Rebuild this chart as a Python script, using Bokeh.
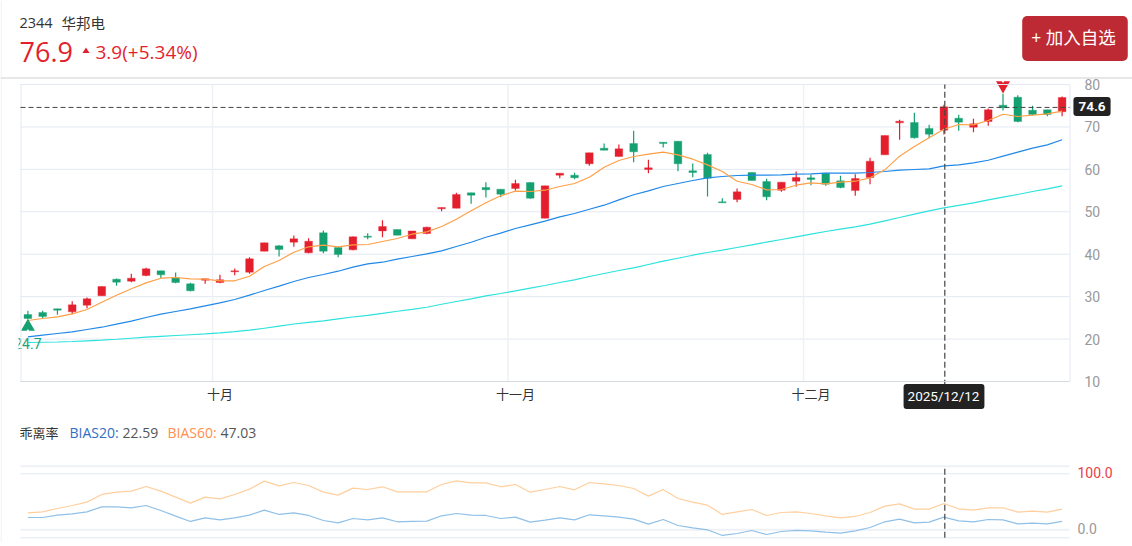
from bokeh.embed import file_html
from bokeh.resources import INLINE
from bokeh.layouts import column
from bokeh.models import (ColumnDataSource, FixedTicker, Label, PolyAnnotation, BoxAnnotation, Range1d)
from bokeh.plotting import figure

opens = [25.79,26.26,27.13,26.42,27.99,30.19,34.12,33.65,34.98,36.08,34.43,33.02,33.88,33.33,35.85,35.77,40.72,41.97,42.84,40.32,45.04,41.58,41.03,44.25,45.5,
         45.82,43.62,44.88,50.69,50.85,54.46,55.72,55.33,55.48,56.9,48.49,58.63,58.63,61.3,65.0,63.03,66.09,59.96,66.41,66.64,59.65,63.5,52.34,52.89,59.26,
         57.14,55.09,57.21,58.0,59.1,57.29,55.0,58.08,63.42,70.96,71.04,69.63,69.24,72.06,69.94,71.28,75.13,77.01,73.95,74.03,73.56]
closes = [24.85,25.32,26.81,28.07,29.48,32.39,33.41,34.35,36.55,35.14,33.33,31.37,34.2,33.96,36.08,38.91,42.68,41.11,43.62,43.07,40.72,39.93,44.1,44.02,46.53,
          44.48,45.5,46.37,51.0,54.07,53.91,55.17,54.15,56.66,53.21,56.11,59.1,58.0,63.89,64.52,64.83,64.13,60.36,66.09,61.3,59.26,57.92,52.11,54.7,57.37,
          53.52,56.98,58.08,57.61,56.51,55.72,57.84,61.93,67.98,71.36,67.43,68.29,74.74,71.12,70.73,74.03,74.5,71.28,72.93,72.93,76.94]
highs = [26.65,26.65,27.13,28.93,29.8,32.39,34.27,35.37,36.79,36.08,35.69,33.25,34.2,35.14,36.63,39.3,42.68,42.13,44.41,43.78,45.59,41.74,44.17,44.96,48.02,
         45.82,45.5,46.45,51.0,54.46,54.46,56.98,55.33,57.53,56.9,56.11,59.1,59.18,63.89,66.09,65.86,69.08,62.24,66.41,66.64,61.38,63.89,53.21,55.48,59.26,
         57.77,56.98,59.49,58.79,59.1,58.47,58.86,62.71,67.98,71.67,73.32,70.49,75.21,72.85,71.91,74.34,77.8,77.49,74.97,74.03,77.17]
lows = [24.69,24.92,25.71,25.87,27.28,30.19,32.55,33.41,34.82,34.35,33.17,31.29,33.02,33.17,35.06,35.37,40.72,39.46,41.74,40.25,40.25,39.3,40.95,43.55,44.01,
        44.48,43.62,44.72,50.14,50.85,51.87,53.36,53.44,55.0,53.05,48.49,57.92,57.69,60.83,64.52,63.03,61.69,59.1,65.15,59.57,58.16,53.6,52.11,52.26,57.37,
        52.74,54.7,55.88,56.27,56.11,55.56,53.76,56.51,63.42,66.96,67.27,67.35,68.21,69.08,68.76,70.26,73.87,71.12,72.77,72.54,72.54]

ma_fast = [24.37,24.85,25.24,25.95,26.97,28.7,30.35,31.84,33.25,34.35,34.51,34.2,34.12,33.73,33.73,34.82,37.1,38.52,40.48,41.74,42.13,41.74,42.21,42.29,43.0,
           43.7,44.72,45.27,46.53,48.26,50.22,52.11,53.76,54.86,54.78,55.09,55.96,56.66,58.16,60.51,62.08,63.03,63.58,64.05,63.42,62.4,61.06,59.49,57.2,56.43,
           55.17,55.25,56.27,56.82,56.59,56.98,57.21,58.0,59.89,63.11,65.39,67.43,69.47,70.57,70.49,71.51,73.0,72.46,72.77,73.09,73.71]
ma_mid = [20.52,20.92,21.31,21.7,22.25,22.8,23.51,24.22,25.08,25.87,26.5,27.13,27.83,28.54,29.32,30.35,31.45,32.47,33.57,34.51,35.22,36.0,36.95,37.73,38.12,
          38.83,39.46,40.09,40.79,41.81,42.83,44.01,44.96,46.06,46.92,47.79,48.81,49.59,50.61,51.56,52.81,54.0,54.94,55.96,56.66,57.37,58.0,58.31,58.55,58.63,
          58.63,58.71,58.86,58.94,59.1,59.1,59.1,59.26,59.49,59.81,59.97,60.12,60.83,61.06,61.54,62.16,63.11,64.05,65.0,65.78,66.96]
ma_slow = [19.19,19.25,19.32,19.42,19.58,19.75,19.95,20.2,20.45,20.65,20.85,21.03,21.23,21.45,21.75,22.1,22.55,23.05,23.55,23.95,24.3,24.75,25.2,25.6,26.05,
           26.55,27.0,27.5,28.2,28.85,29.48,30.18,30.74,31.36,32.0,32.62,33.33,33.96,34.74,35.45,36.16,36.78,37.57,38.36,39.06,39.77,40.4,40.95,41.58,42.2,
           42.84,43.46,44.09,44.72,45.35,45.9,46.45,47.08,47.87,48.65,49.44,50.22,50.93,51.5,52.1,52.8,53.44,54.07,54.78,55.4,56.1]

bias20 = [22.0,22.0,26.2,28.6,32.1,41.0,41.0,39.3,43.4,34.5,24.4,14.9,21.4,17.8,21.4,26.2,35.1,27.4,30.3,25.6,16.6,12.5,20.2,17.8,21.4,
          14.3,14.9,15.4,25.0,29.1,26.2,25.6,20.2,22.6,13.7,17.2,21.4,17.8,26.8,25.0,22.6,19.0,10.1,18.4,7.7,3.6,0.0,-10.1,-6.6,-1.2,
          -8.4,-3.0,-1.2,-1.8,-4.2,-6.0,-1.8,4.1,14.3,19.0,12.5,13.7,22.59,16.0,14.3,18.4,17.8,10.7,11.9,10.7,14.9]
bias60 = [30.3,32.1,38.1,43.4,49.4,63.1,67.2,69.0,77.3,69.0,58.3,47.6,58.3,55.3,63.1,72.6,86.9,78.5,84.5,79.1,67.2,61.9,74.4,72.0,76.8,
          67.8,67.8,67.8,80.9,87.5,83.9,83.9,76.8,80.9,67.2,72.0,77.3,71.4,84.5,82.1,79.1,73.8,60.1,72.0,55.9,49.4,44.0,27.4,32.1,36.3,
          25.6,30.9,32.1,29.1,25.0,21.4,23.8,30.9,42.2,46.4,36.9,36.9,47.03,37.5,35.1,39.3,39.3,31.5,33.3,31.5,36.9]

month_ticks = [13, 33, 53]
month_labels = ["十月", "十一月", "十二月"]
price_ticks = [10, 20, 30, 40, 50, 60, 70, 80]
bias_ticks = [100, 0]
bias_edges = [113.6, -14.3]
cross_index = 62
cross_price = 74.6
cross_date = "2025/12/12"
low_index, low_value = 0, 24.7
high_index = 66
low_mark_y, low_notch_y, low_text_y = 22.9, 21.7, 19.0
high_mark_y, high_notch_y = 79.8, 81.0

RED = "#E41F2D"
GREEN = "#14A070"
GRID = "#E3E8F2"
GRID2 = "#EEF1F6"
LATIN = "'Open Sans','Noto Sans CJK SC',sans-serif"
CJK = "'Noto Sans CJK SC',sans-serif"

W, H = 1132, 542
H1 = 450
F_L, F_R = 20.0, 1069.0
F1_T, F1_B = 84.0, 381.0
X0, X1 = -0.5, 70.5

n = len(opens)
idx = list(range(n))
colors = [RED if c >= o else GREEN for o, c in zip(opens, closes)]
src = ColumnDataSource(dict(x=idx, top=[max(o, c) for o, c in zip(opens, closes)],
                            bot=[min(o, c) for o, c in zip(opens, closes)],
                            hi=highs, lo=lows, color=colors))

# every canvas pixel lies inside the frame: annotations are clipped to it
px_x = (F_R - F_L) / (X1 - X0)
px_y = (F1_B - F1_T) / (price_ticks[-1] - price_ticks[0])
x_range_full = (X0 - F_L / px_x, X1 + (W - F_R) / px_x)
y_range_full = (price_ticks[0] - (H1 - F1_B) / px_y, price_ticks[-1] + F1_T / px_y)
common = dict(output_backend="svg", toolbar_location=None, outline_line_color=None, min_border=0,
              min_border_left=0, min_border_right=0, min_border_top=0, min_border_bottom=0,
              background_fill_color="white", border_fill_color="white")

f1 = figure(width=W, height=H1, x_range=Range1d(*x_range_full), y_range=Range1d(*y_range_full),
            y_axis_location="right", **common)
f1.xgrid.visible = False
f1.ygrid.visible = False
f1.yaxis.fixed_location = X1
f1.yaxis.ticker = FixedTicker(ticks=price_ticks)
f1.yaxis.axis_line_color = None
f1.yaxis.major_tick_line_color = None
f1.yaxis.minor_tick_line_color = None
f1.yaxis.major_label_text_color = "#999999"
f1.yaxis.major_label_text_font = "Roboto"
f1.yaxis.major_label_text_font_size = "14px"
f1.yaxis.major_label_standoff = 9
f1.xaxis.fixed_location = price_ticks[0]
f1.xaxis.bounds = (X0, X1)
f1.xaxis.ticker = FixedTicker(ticks=month_ticks)
f1.xaxis.major_label_overrides = dict(zip(month_ticks, month_labels))
f1.xaxis.axis_line_color = "#D5D9E2"
f1.xaxis.major_tick_line_color = None
f1.xaxis.minor_tick_line_color = None
f1.xaxis.major_label_text_color = "#333333"
f1.xaxis.major_label_text_font = CJK
f1.xaxis.major_label_text_font_size = "13px"
f1.xaxis.major_label_standoff = -4

# grid
f1.segment(x0=X0, x1=X1, y0=price_ticks, y1=price_ticks, line_color=GRID, line_width=1)
f1.segment(x0=[t - 0.5 for t in month_ticks], x1=[t - 0.5 for t in month_ticks], y0=price_ticks[0], y1=price_ticks[-1],
           line_color=GRID2, line_width=1.5)

f1.segment(x0="x", x1="x", y0="hi", y1="lo", color="color", line_width=1.2, source=src)
f1.vbar(x="x", width=0.52, top="top", bottom="bot", fill_color="color", line_color="color",
        line_alpha=0.35, line_width=1, source=src)

f1.line(idx, ma_slow, line_color="#2BE3DC", line_width=1.15)
f1.line(idx, ma_mid, line_color="#2088E8", line_width=1.15)
f1.line(idx, ma_fast, line_color="#FF9F45", line_width=1.15)

# extreme markers
f1.scatter([low_index], [low_mark_y], marker="triangle", size=14, fill_color=GREEN, line_color=None)
f1.scatter([low_index], [low_notch_y], marker="triangle", size=5, fill_color="white", line_color=None)
f1.scatter([high_index], [high_mark_y], marker="inverted_triangle", size=14, fill_color=RED, line_color=None)
f1.scatter([high_index], [high_notch_y], marker="inverted_triangle", size=5, fill_color="white", line_color=None)
f1.text(x=[low_index], y=[low_text_y], text=[str(low_value)], text_color="#1AA37A", text_font_size="14px",
        text_font={"value": "Roboto"}, text_align="center", text_baseline="middle")
# the pane edge cuts the label in the reference
f1.quad(left=x_range_full[0], right=X0 - 2 / px_x, top=price_ticks[1] + 4, bottom=price_ticks[0] + 5,
        fill_color="white", line_color=None)
edge_x = [X0 + 0.5 / px_x, X1 + 0.5 / px_x]
f1.segment(x0=edge_x, x1=edge_x, y0=price_ticks[0], y1=price_ticks[-1], line_color=GRID, line_width=1)
f1.segment(x0=X0, x1=X1, y0=price_ticks[-1], y1=price_ticks[-1], line_color=GRID, line_width=1)

# crosshair
f1.line([X0, X1], [cross_price, cross_price], line_color="#444444", line_width=1, line_dash=[5, 3])
f1.line([cross_index + 0.06, cross_index + 0.06], [price_ticks[0] - 1, price_ticks[-1]], line_color="#444444",
        line_width=1.2, line_dash=[6, 3])


def text(fig, s, x, y, size, color, font=LATIN, align="left", weight="normal", fig_h=H1, **kw):
    fig.add_layout(Label(x=x, y=fig_h - y, x_units="screen", y_units="screen", text=s, text_color=color,
                         text_font=font, text_font_size=f"{size}px", text_align=align,
                         text_baseline="middle", text_font_style=weight, **kw))


# header
f1.add_layout(BoxAnnotation(left=0, right=W, top=77, bottom=78, left_units="canvas", right_units="canvas",
                            top_units="canvas", bottom_units="canvas", fill_color="#CFCFD2", fill_alpha=1, line_color=None))
f1.add_layout(BoxAnnotation(left=0, right=1, top=0, bottom=H1, left_units="canvas", right_units="canvas",
                            top_units="canvas", bottom_units="canvas", fill_color="#EEEEEE", fill_alpha=1, line_color=None))
text(f1, "2344", 19, 22, 14.5, "#333333")
text(f1, "华邦电", 61, 22, 14.5, "#333333", font=CJK)
text(f1, "76.9", 19, 51, 27, RED)
text(f1, "3.9(+5.34%)", 95, 51, 19, RED)
f1.add_layout(PolyAnnotation(xs=[82, 85.5, 89], ys=[H1 - 52.5, H1 - 47, H1 - 52.5], xs_units="screen", ys_units="screen",
                             fill_color=RED, fill_alpha=1, line_color=None))
text(f1, "+ 加入自选", 1074.5, 38, 17.5, "#FFFFFF", font=LATIN, align="center",
     background_fill_color="#BE2A33", border_radius=5, padding=(9, 12, 9, 12))
text(f1, str(cross_price), 1091.5, 106, 13.5, "#FFFFFF", font="Roboto", align="center", weight="bold",
     background_fill_color="#222222", border_radius=3, padding=(5, 5, 5, 5))
text(f1, cross_date, 943.5, 396, 13.5, "#FFFFFF", font="Roboto", align="center",
     background_fill_color="#222222", border_radius=3, padding=(4, 5, 4, 5))
text(f1, "乖离率", 19, 432, 13, "#333333", font=CJK)
text(f1, "BIAS20:", 69, 432, 14, "#2F6FC4")
text(f1, "22.59", 122, 432, 14, "#555555")
text(f1, "BIAS60:", 167, 432, 14, "#FF8F4D")
text(f1, "47.03", 220, 432, 14, "#555555")

# lower pane
H2 = H - H1
zero_y, unit = 529.3 - H1, 0.56
f2 = figure(width=W, height=H2, x_range=Range1d(*x_range_full),
            y_range=Range1d((zero_y - H2) / unit, zero_y / unit), **common)
f2.xaxis.visible = False
f2.yaxis.visible = False
f2.xgrid.visible = False
f2.ygrid.visible = False
f2.segment(x0=X0, x1=X1, y0=bias_edges[0], y1=bias_edges[0], line_color=GRID2, line_width=2)
f2.segment(x0=X0, x1=X1, y0=bias_ticks[1], y1=bias_ticks[1], line_color=GRID2, line_width=2)
f2.segment(x0=X0, x1=X1, y0=bias_ticks[0], y1=bias_ticks[0], line_color=GRID, line_width=1)
f2.segment(x0=X0, x1=X1, y0=bias_edges[1], y1=bias_edges[1], line_color=GRID, line_width=1)
f2.line(idx, bias20, line_color="#8FC0E8", line_width=1.2)
f2.line(idx, bias60, line_color="#FFCF9E", line_width=1.2)
f2.line([cross_index + 0.06, cross_index + 0.06], [bias_edges[1], bias_edges[0]], line_color="#444444", line_width=1.2, line_dash=[6, 3])
f2.add_layout(BoxAnnotation(left=0, right=1, top=0, bottom=H2, left_units="canvas", right_units="canvas",
                            top_units="canvas", bottom_units="canvas", fill_color="#EEEEEE", fill_alpha=1, line_color=None))
text(f2, "100.0", 1077, 472 - H1, 14, "#E8404A", font="Roboto", fig_h=H2)
text(f2, "0.0", 1077, 528 - H1, 14, "#999999", font="Roboto", fig_h=H2)

page = column(f1, f2, spacing=0)
open("out.html", "w").write(file_html(page, INLINE))
